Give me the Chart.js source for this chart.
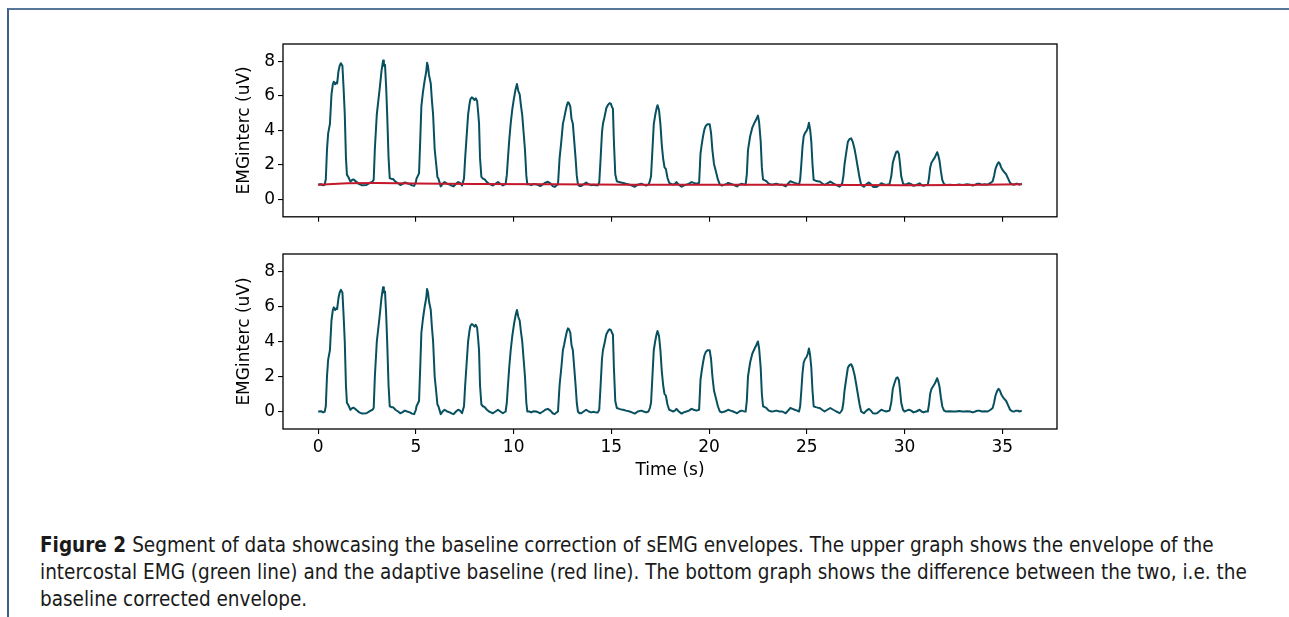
<!DOCTYPE html>
<html>
<head>
<meta charset="utf-8">
<script src="https://cdn.jsdelivr.net/npm/chart.js@4"></script>
<style>
  body { margin: 0; width: 1289px; height: 617px; background: #fff; position: relative; overflow: hidden; }
  #frame { position: absolute; left: 7px; top: 8px; right: 0; bottom: 0; border-top: 2px solid #56769a; border-left: 2px solid #3d6189; }
  .plot { position: absolute; left: 228px; }
  #caption { position: absolute; left: 40px; top: 532px; font-family: "Liberation Sans Narrow", "DejaVu Sans Condensed", "Liberation Sans", sans-serif; font-size: 20.5px; line-height: 27px; color: #1a1a1a; white-space: nowrap; }
  #caption b { font-weight: bold; margin-right: 6px; }
</style>
</head>
<body>
<div id="frame"></div>
<div class="plot" style="top:30px"><canvas id="topChart" width="872" height="200"></canvas></div>
<div class="plot" style="top:240px"><canvas id="bottomChart" width="872" height="250"></canvas></div>
<div id="caption">
  <div><b>Figure 2</b>Segment of data showcasing the baseline correction of sEMG envelopes. The upper graph shows the envelope of the</div>
  <div>intercostal EMG (green line) and the adaptive baseline (red line). The bottom graph shows the difference between the two, i.e. the</div>
  <div>baseline corrected envelope.</div>
</div>
<script>
// time axis (s) shared by both envelope traces
const timeS = [
  0.00,0.15,0.25,0.33,0.39,0.45,0.51,0.60,0.68,0.75,0.80,0.87,0.93,0.97,
  1.04,1.10,1.16,1.24,1.30,1.36,1.42,1.47,1.55,1.65,1.75,1.82,1.96,2.10,2.25,2.47,2.64,2.78,
  2.84,2.90,3.00,3.15,3.24,3.32,3.36,3.42,3.48,3.53,3.60,3.66,3.75,3.83,3.95,4.09,4.20,4.30,4.43,4.55,4.69,4.80,4.91,
  5.00,5.03,5.16,5.22,5.28,5.36,5.45,5.53,5.57,5.62,5.67,5.76,5.82,5.88,5.96,6.05,6.10,6.15,6.27,6.37,6.47,6.60,6.73,6.85,6.93,7.05,7.16,7.26,7.36,
  7.46,7.52,7.58,7.67,7.74,7.79,7.86,7.92,8.00,8.06,8.13,8.18,8.23,8.28,8.35,8.43,8.52,8.63,8.74,8.84,8.94,9.07,9.20,9.32,9.45,9.59,
  9.65,9.71,9.78,9.85,9.93,10.02,10.10,10.17,10.24,10.31,10.37,10.44,10.51,10.58,10.65,10.70,10.80,10.90,11.03,11.16,11.26,11.36,11.50,11.62,11.75,11.88,12.00,12.10,12.20,12.27,
  12.35,12.44,12.52,12.58,12.65,12.73,12.78,12.83,12.90,12.96,13.03,13.10,13.17,13.23,13.29,13.37,13.46,13.58,13.71,13.84,13.97,14.10,14.20,14.31,
  14.38,14.45,14.52,14.57,14.65,14.74,14.83,14.91,14.98,15.03,15.08,15.13,15.20,15.28,15.40,15.50,15.60,15.75,15.94,16.05,16.20,16.35,16.53,16.65,16.78,16.90,
  16.97,17.03,17.10,17.17,17.24,17.31,17.36,17.39,17.44,17.51,17.58,17.65,17.72,17.79,17.87,17.96,18.06,18.16,18.25,18.33,18.45,18.59,18.70,18.84,18.97,19.10,19.22,19.35,19.49,
  19.56,19.62,19.69,19.76,19.83,19.92,20.03,20.10,20.17,20.25,20.34,20.45,20.55,20.65,20.80,20.90,20.97,21.10,21.23,21.33,21.43,21.55,21.65,21.76,21.87,
  21.93,21.99,22.10,22.21,22.33,22.42,22.50,22.56,22.64,22.70,22.76,22.85,22.93,23.05,23.19,23.31,23.44,23.60,23.75,23.83,23.92,24.04,24.16,24.27,24.38,24.50,24.60,
  24.66,24.72,24.78,24.84,24.91,24.98,25.05,25.11,25.17,25.23,25.29,25.35,25.45,25.56,25.66,25.78,25.91,26.05,26.20,26.35,26.51,26.60,26.68,26.75,26.81,
  26.87,26.93,27.02,27.10,27.18,27.27,27.35,27.44,27.52,27.61,27.70,27.78,27.85,27.92,28.05,28.18,28.28,28.38,28.48,28.59,28.70,28.81,28.93,29.06,29.15,29.23,
  29.32,29.40,29.48,29.57,29.64,29.71,29.77,29.83,29.92,30.00,30.10,30.22,30.34,30.46,30.60,30.77,30.87,30.97,31.08,31.19,
  31.25,31.31,31.38,31.44,31.55,31.67,31.73,31.79,31.86,31.93,32.02,32.13,32.30,32.47,32.64,32.80,32.95,33.07,33.20,33.35,33.49,33.62,33.73,33.83,33.95,34.10,34.26,34.40,34.51,
  34.58,34.65,34.73,34.81,34.88,34.94,34.99,35.08,35.20,35.30,35.40,35.50,35.62,35.70,35.79,35.88,36.00
];

// upper graph: intercostal EMG envelope (uV)
const envelopeUv = [
  0.87,0.89,0.82,0.85,1.17,2.87,3.83,4.37,6.07,6.67,6.82,6.67,6.77,6.72,
  7.44,7.74,7.89,7.74,6.44,4.94,2.44,1.44,1.29,1.04,1.14,1.16,1.02,0.89,0.82,0.84,0.96,1.04,
  1.14,2.94,4.94,6.44,7.44,8.04,7.74,7.79,6.44,4.94,2.44,1.24,1.19,1.19,1.04,0.94,0.84,0.89,0.99,0.94,0.89,0.82,0.79,
  1.01,1.21,1.51,3.41,5.41,6.21,6.91,7.41,7.91,7.71,7.21,6.71,5.71,4.91,2.91,1.91,1.31,1.21,0.76,0.91,1.01,0.91,0.86,0.79,0.76,0.91,1.01,0.96,0.81,
  1.21,2.41,3.41,4.91,5.51,5.81,5.91,5.86,5.76,5.86,5.71,5.11,4.41,2.41,1.31,1.21,1.16,1.01,0.91,0.86,0.81,0.91,1.01,0.91,0.81,0.91,
  1.41,2.41,3.51,4.41,5.21,5.88,6.38,6.68,6.28,6.08,5.48,4.88,3.88,2.88,1.38,0.88,0.88,0.83,0.90,0.88,0.83,0.78,0.88,0.98,1.03,0.93,0.78,0.73,0.83,0.88,
  2.38,3.38,4.38,4.68,5.08,5.48,5.63,5.58,5.38,4.68,4.38,3.38,2.38,1.38,0.88,0.78,0.78,0.88,0.98,0.88,0.83,0.86,0.83,0.83,
  0.98,2.38,3.88,4.38,4.78,5.28,5.48,5.58,5.53,5.36,5.26,3.36,1.46,1.06,1.01,0.98,0.96,0.91,0.86,0.81,0.74,0.86,0.91,0.86,0.81,0.86,
  1.06,1.36,2.86,4.36,4.86,5.26,5.46,5.36,5.16,4.36,3.16,2.36,1.86,1.76,1.26,0.96,0.91,0.86,0.91,1.01,0.86,0.74,0.81,0.86,0.91,1.01,0.96,0.91,0.96,
  2.66,3.16,3.66,4.06,4.26,4.36,4.36,3.86,2.86,2.06,1.66,1.16,0.86,0.81,0.86,0.91,0.96,0.91,0.86,0.81,0.76,0.86,0.91,0.88,0.86,
  1.46,2.86,3.66,4.16,4.46,4.66,4.86,4.46,3.36,1.86,1.16,1.11,1.06,0.91,0.86,0.88,0.91,0.86,0.86,0.81,0.76,0.91,1.06,1.01,0.96,0.91,0.86,
  1.16,2.06,3.06,3.66,3.86,3.96,4.14,4.44,4.04,3.34,2.04,1.14,1.09,1.06,1.04,0.94,0.84,0.94,1.04,0.94,0.84,0.79,0.74,0.84,0.94,
  1.34,2.04,2.74,3.34,3.49,3.54,3.34,2.94,2.44,1.84,1.24,0.84,0.79,0.74,0.89,0.99,0.89,0.74,0.72,0.74,0.84,0.94,0.89,0.84,0.87,0.89,
  1.34,2.14,2.44,2.74,2.79,2.64,2.04,1.34,0.94,0.84,0.89,0.94,0.89,0.79,0.84,0.94,0.84,0.79,0.84,0.84,
  1.24,1.84,2.14,2.24,2.44,2.74,2.54,2.24,1.64,1.14,0.89,0.84,0.86,0.84,0.84,0.87,0.84,0.86,0.88,0.86,0.81,0.86,0.91,0.91,0.86,0.88,0.86,0.96,1.06,
  1.36,1.76,2.01,2.16,2.06,1.86,1.76,1.61,1.46,1.21,0.96,0.88,0.86,0.91,0.91,0.86,0.91
];

// lower graph: baseline corrected envelope (uV)
const correctedUv = [
  0.00,0.02,-0.05,-0.02,0.30,2.00,2.96,3.50,5.20,5.80,5.95,5.80,5.90,5.85,
  6.50,6.80,6.95,6.80,5.50,4.00,1.50,0.50,0.35,0.10,0.20,0.22,0.08,-0.05,-0.12,-0.10,0.02,0.10,
  0.20,2.00,4.00,5.50,6.50,7.10,6.80,6.85,5.50,4.00,1.50,0.30,0.25,0.25,0.10,0.00,-0.10,-0.05,0.05,0.00,-0.05,-0.12,-0.15,
  0.10,0.30,0.60,2.50,4.50,5.30,6.00,6.50,7.00,6.80,6.30,5.80,4.80,4.00,2.00,1.00,0.40,0.30,-0.15,0.00,0.10,0.00,-0.05,-0.12,-0.15,0.00,0.10,0.05,-0.10,
  0.30,1.50,2.50,4.00,4.60,4.90,5.00,4.95,4.85,4.95,4.80,4.20,3.50,1.50,0.40,0.30,0.25,0.10,0.00,-0.05,-0.10,0.00,0.10,0.00,-0.10,0.00,
  0.50,1.50,2.60,3.50,4.30,5.00,5.50,5.80,5.40,5.20,4.60,4.00,3.00,2.00,0.50,0.00,0.00,-0.05,0.02,0.00,-0.05,-0.10,0.00,0.10,0.15,0.05,-0.10,-0.15,-0.05,0.00,
  1.50,2.50,3.50,3.80,4.20,4.60,4.75,4.70,4.50,3.80,3.50,2.50,1.50,0.50,0.00,-0.10,-0.10,0.00,0.10,0.00,-0.05,-0.02,-0.05,-0.05,
  0.10,1.50,3.00,3.50,3.90,4.40,4.60,4.70,4.65,4.50,4.40,2.50,0.60,0.20,0.15,0.12,0.10,0.05,0.00,-0.05,-0.12,0.00,0.05,0.00,-0.05,0.00,
  0.20,0.50,2.00,3.50,4.00,4.40,4.60,4.50,4.30,3.50,2.30,1.50,1.00,0.90,0.40,0.10,0.05,0.00,0.05,0.15,0.00,-0.12,-0.05,0.00,0.05,0.15,0.10,0.05,0.10,
  1.80,2.30,2.80,3.20,3.40,3.50,3.50,3.00,2.00,1.20,0.80,0.30,0.00,-0.05,0.00,0.05,0.10,0.05,0.00,-0.05,-0.10,0.00,0.05,0.02,0.00,
  0.60,2.00,2.80,3.30,3.60,3.80,4.00,3.60,2.50,1.00,0.30,0.25,0.20,0.05,0.00,0.02,0.05,0.00,0.00,-0.05,-0.10,0.05,0.20,0.15,0.10,0.05,0.00,
  0.30,1.20,2.20,2.80,3.00,3.10,3.30,3.60,3.20,2.50,1.20,0.30,0.25,0.22,0.20,0.10,0.00,0.10,0.20,0.10,0.00,-0.05,-0.10,0.00,0.10,
  0.50,1.20,1.90,2.50,2.65,2.70,2.50,2.10,1.60,1.00,0.40,0.00,-0.05,-0.10,0.05,0.15,0.05,-0.10,-0.12,-0.10,0.00,0.10,0.05,0.00,0.03,0.05,
  0.50,1.30,1.60,1.90,1.95,1.80,1.20,0.50,0.10,0.00,0.05,0.10,0.05,-0.05,0.00,0.10,0.00,-0.05,0.00,0.00,
  0.40,1.00,1.30,1.40,1.60,1.90,1.70,1.40,0.80,0.30,0.05,0.00,0.02,0.00,0.00,0.03,0.00,0.00,0.02,0.00,-0.05,0.00,0.05,0.05,0.00,0.02,0.00,0.10,0.20,
  0.50,0.90,1.15,1.30,1.20,1.00,0.90,0.75,0.60,0.35,0.10,0.02,0.00,0.05,0.05,0.00,0.05
];

// adaptive baseline (red line, upper graph)
const baselineTimeS = [0, 0.5, 1.5, 3, 5, 8, 12, 16, 20, 25, 30, 33, 36];
const baselineUv = [0.86, 0.88, 0.94, 0.95, 0.93, 0.90, 0.88, 0.86, 0.86, 0.85, 0.83, 0.84, 0.88];

const xTicks = [0, 5, 10, 15, 20, 25, 30, 35];
const yTicks = [0, 2, 4, 6, 8];

const tickFont = { family: 'DejaVu Sans', size: 17 };
const green = '#07505f';
const red = '#c4182c';

const pairs = (xs, ys) => xs.map((x, i) => ({ x: x, y: ys[i] }));

const framePlugin = {
  id: 'frame',
  afterDraw(chart) {
    const { ctx, chartArea: a } = chart;
    ctx.save();
    ctx.strokeStyle = '#000';
    ctx.lineWidth = 1.3;
    ctx.strokeRect(a.left, a.top, a.right - a.left, a.bottom - a.top);
    ctx.restore();
  }
};

function makeOptions(xAxisHeight, showXLabels) {
  return {
    responsive: false,
    animation: false,
    devicePixelRatio: 1,
    layout: { padding: { top: 14, right: 43, left: 0, bottom: 0 } },
    plugins: { legend: { display: false }, tooltip: { enabled: false } },
    elements: { point: { radius: 0 }, line: { tension: 0, borderJoinStyle: 'round' } },
    scales: {
      x: {
        type: 'linear', min: -1.8, max: 37.8,
        afterBuildTicks: s => { s.ticks = xTicks.map(v => ({ value: v })); },
        afterFit: s => { s.height = xAxisHeight; },
        grid: { drawOnChartArea: false, drawTicks: true, tickLength: 5, color: '#000', lineWidth: 1.1 },
        border: { display: false },
        ticks: { display: showXLabels, font: tickFont, color: '#000', padding: 3, maxRotation: 0 },
        title: { display: showXLabels, text: 'Time (s)', font: tickFont, color: '#000', padding: { top: 0, bottom: 9 } }
      },
      y: {
        min: -1, max: 9,
        afterBuildTicks: s => { s.ticks = yTicks.map(v => ({ value: v })); },
        afterFit: s => { s.width = 55; },
        grid: { drawOnChartArea: false, drawTicks: true, tickLength: 5, color: '#000', lineWidth: 1.1 },
        border: { display: false },
        ticks: { font: tickFont, color: '#000', padding: 3 },
        title: { display: true, text: 'EMGinterc (uV)', font: tickFont, color: '#000', padding: { top: 6, bottom: 0 } }
      }
    }
  };
}

new Chart(document.getElementById('topChart').getContext('2d'), {
  type: 'line',
  data: {
    datasets: [
      { data: pairs(baselineTimeS, baselineUv), borderColor: red, borderWidth: 2 },
      { data: pairs(timeS, envelopeUv), borderColor: green, borderWidth: 2 }
    ]
  },
  options: makeOptions(11, false),
  plugins: [framePlugin]
});

new Chart(document.getElementById('bottomChart').getContext('2d'), {
  type: 'line',
  data: {
    datasets: [
      { data: pairs(timeS, correctedUv), borderColor: green, borderWidth: 2 }
    ]
  },
  options: makeOptions(61, true),
  plugins: [framePlugin]
});
</script>
</body>
</html>
